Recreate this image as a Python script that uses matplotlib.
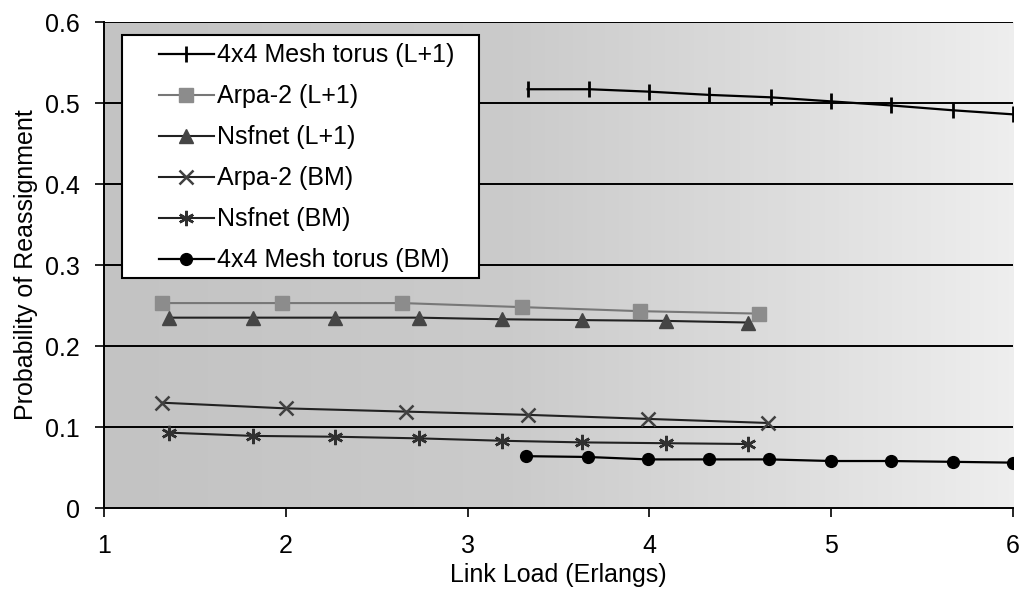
import matplotlib
matplotlib.use("Agg")
import matplotlib.pyplot as plt
from matplotlib.colors import LinearSegmentedColormap
from matplotlib.patches import Rectangle
import numpy as np

plt.rcParams['font.family'] = ['Liberation Sans', 'DejaVu Sans']

# values
mesh_l1_x = [3.33, 3.67, 4.0, 4.33, 4.67, 5.0, 5.33, 5.67, 6.0]
mesh_l1_y = [0.517, 0.517, 0.514, 0.510, 0.507, 0.502, 0.497, 0.491, 0.486]

arpa_l1_x = [1.32, 1.98, 2.64, 3.30, 3.95, 4.60]
arpa_l1_y = [0.253, 0.253, 0.253, 0.248, 0.243, 0.240]

nsf_l1_x = [1.36, 1.82, 2.27, 2.73, 3.19, 3.63, 4.09, 4.54]
nsf_l1_y = [0.235, 0.235, 0.235, 0.235, 0.233, 0.232, 0.231, 0.229]

arpa_bm_x = [1.32, 2.0, 2.66, 3.33, 3.99, 4.65]
arpa_bm_y = [0.130, 0.123, 0.119, 0.115, 0.110, 0.105]

nsf_bm_x = [1.36, 1.82, 2.27, 2.73, 3.19, 3.63, 4.09, 4.54]
nsf_bm_y = [0.093, 0.089, 0.088, 0.086, 0.083, 0.081, 0.080, 0.079]

mesh_bm_x = [3.32, 3.66, 3.99, 4.33, 4.66, 5.0, 5.33, 5.67, 6.0]
mesh_bm_y = [0.064, 0.063, 0.060, 0.060, 0.060, 0.058, 0.058, 0.057, 0.056]

xticks = [1, 2, 3, 4, 5, 6]
yticks = [0, 0.1, 0.2, 0.3, 0.4, 0.5, 0.6]
ytick_labels = ['0', '0.1', '0.2', '0.3', '0.4', '0.5', '0.6']

FS = 18

fig = plt.figure(figsize=(10.24, 5.98), dpi=100)
ax = fig.add_axes([0.1016, 0.1505, 0.8877, 0.8127])

# shaded plot area, darker on the left
bg = LinearSegmentedColormap.from_list(
    'bg', [(0, '#c3c3c3'), (0.45, '#cbcbcb'), (0.75, '#dddddd'), (1, '#eeeeee')])
grad = np.linspace(0, 1, 256).reshape(1, -1)
ax.imshow(grad, extent=[1, 6, 0, 0.6], aspect='auto', cmap=bg,
          zorder=0, interpolation='bilinear')

for y in yticks[1:]:
    ax.axhline(y, color='black', lw=1.4, zorder=1)

ax.plot(mesh_l1_x, mesh_l1_y, color='black', lw=1.6, marker='|',
        markersize=11, mew=2, label='4x4 Mesh torus (L+1)', zorder=3)
ax.plot(arpa_l1_x, arpa_l1_y, color='#777777', lw=1.5, marker='s',
        markersize=9.5, mfc='#8c8c8c', mec='#8c8c8c', label='Arpa-2 (L+1)', zorder=3)
ax.plot(nsf_l1_x, nsf_l1_y, color='#222222', lw=1.5, marker='^',
        markersize=9.5, mfc='#454545', mec='#454545', label='Nsfnet (L+1)', zorder=3)
ax.plot(arpa_bm_x, arpa_bm_y, color='#222222', lw=1.5, marker='x',
        markersize=10, mew=1.8, mec='#404040', label='Arpa-2 (BM)', zorder=3)
ax.plot(nsf_bm_x, nsf_bm_y, color='#222222', lw=1.5, marker=(6, 2, 0),
        markersize=11, mew=1.8, mec='#303030', label='Nsfnet (BM)', zorder=3)
ax.plot(mesh_bm_x, mesh_bm_y, color='black', lw=1.6, marker='o',
        markersize=8.5, mfc='black', label='4x4 Mesh torus (BM)', zorder=3)

ax.set_xlim(1, 6)
ax.set_ylim(0, 0.6)
ax.set_xticks(xticks)
ax.set_yticks(yticks)
ax.set_yticklabels(ytick_labels)
ax.tick_params(axis='both', labelsize=FS, length=6.5, width=1.2, direction='out')
ax.tick_params(axis='x', pad=12)
ax.tick_params(axis='y', pad=11)
ax.spines['top'].set_visible(False)
ax.spines['right'].set_visible(False)
ax.spines['left'].set_linewidth(1.4)
ax.spines['bottom'].set_linewidth(1.4)

ax.set_xlabel('Link Load (Erlangs)', fontsize=FS, labelpad=4)
ax.set_ylabel('Probability of Reassignment', fontsize=FS, labelpad=5)

# legend box drawn as its own white rectangle
ax.add_patch(Rectangle((0.0198, 0.473), 0.393, 0.50, transform=ax.transAxes,
                       facecolor='white', edgecolor='black', lw=1.5, zorder=4))
leg = ax.legend(loc='upper left', bbox_to_anchor=(0.06, 0.956), fontsize=FS,
                handlelength=2.2, handletextpad=0.15, labelspacing=0.68,
                borderpad=0, frameon=False, borderaxespad=0)
leg.set_zorder(5)

fig.savefig('out.png', dpi=100)
